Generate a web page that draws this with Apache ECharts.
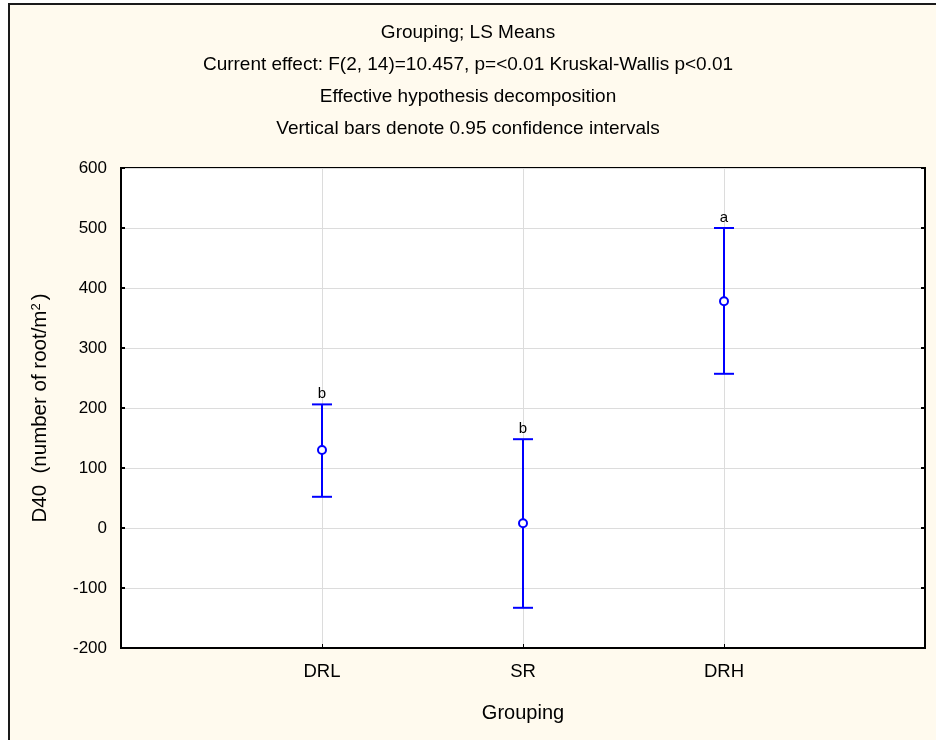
<!DOCTYPE html>
<html>
<head>
<meta charset="utf-8">
<script src="https://cdn.jsdelivr.net/npm/echarts@6/dist/echarts.min.js"></script>
<style>
html,body{margin:0;padding:0;background:#ffffff;}
#chart{width:936px;height:740px;}
</style>
</head>
<body>
<div id="chart"></div>
<script>
// ---- data ----
const categories = ['DRL', 'SR', 'DRH'];
const means = [130, 8, 378];
const lowerCI = [52, -133, 257];
const upperCI = [206, 148, 500];
const groupLetters = ['b', 'b', 'a'];
const titleLines = [
  'Grouping; LS Means',
  'Current effect: F(2, 14)=10.457, p=<0.01 Kruskal-Wallis p<0.01',
  'Effective hypothesis decomposition',
  'Vertical bars denote 0.95 confidence intervals'
];
const yTicks = [-200, -100, 0, 100, 200, 300, 400, 500, 600];

// padded category axis so that groups sit at 1/4, 2/4, 3/4 of the width
const axisCats = [''].concat(categories).concat(['']);
const FONT = 'Liberation Sans';
const BLUE = '#0000ff';

const errData = categories.map((c, i) => [c, lowerCI[i], upperCI[i], means[i], groupLetters[i]]);

const titleGraphics = titleLines.map((t, i) => ({
  type: 'text', silent: true, z: 5,
  x: 468, y: 33 + i * 32,
  style: {text: t, fill: '#000', font: '19px "Liberation Sans"', align: 'center', verticalAlign: 'middle'}
}));

const chart = echarts.init(document.getElementById('chart'), null, {renderer: 'canvas'});
chart.setOption({
  backgroundColor: '#ffffff',
  animation: false,
  graphic: [{
    type: 'rect', z: -10, silent: true,
    shape: {x: 9, y: 4, width: 940, height: 750},
    style: {fill: '#fffaee', stroke: '#1a1a1a', lineWidth: 2}
  }].concat(titleGraphics),
  grid: {
    left: 121, right: 11, top: 168, bottom: 92,
    show: true, backgroundColor: '#ffffff', borderColor: '#000', borderWidth: 2,
    containLabel: false
  },
  xAxis: {
    type: 'category',
    data: axisCats,
    boundaryGap: false,
    name: 'Grouping',
    nameLocation: 'middle',
    nameGap: 55,
    nameTextStyle: {fontFamily: FONT, fontSize: 20, color: '#000'},
    axisLine: {show: true, onZero: false, lineStyle: {color: '#000', width: 2}},
    axisTick: {show: true, inside: true, length: 4, lineStyle: {color: '#000', width: 1}},
    axisLabel: {fontFamily: FONT, fontSize: 18.5, color: '#000', margin: 14, interval: 0},
    splitLine: {show: true, lineStyle: {color: '#dcdcdc', width: 1}}
  },
  yAxis: [{
    type: 'value',
    min: yTicks[0], max: yTicks[yTicks.length - 1], interval: 100,
    name: 'D40  (number of root/m{sup|2})',
    nameLocation: 'middle',
    nameGap: 70,
    nameRotate: 90,
    nameTextStyle: {fontFamily: FONT, fontSize: 20.5, color: '#000',
      rich: {sup: {fontFamily: FONT, fontSize: 13, color: '#000', verticalAlign: 'top', padding: [0, 3, 8, 0]}}},
    axisLine: {show: true, onZero: false, lineStyle: {color: '#000', width: 2}},
    axisTick: {show: true, inside: true, length: 4, lineStyle: {color: '#000', width: 2}},
    axisLabel: {fontFamily: FONT, fontSize: 17, color: '#000', margin: 14},
    splitLine: {show: true, lineStyle: {color: '#dcdcdc', width: 1}}
  }, {
    type: 'value', position: 'right',
    min: yTicks[0], max: yTicks[yTicks.length - 1], interval: 100,
    axisLine: {show: true, onZero: false, lineStyle: {color: '#000', width: 2}},
    axisTick: {show: true, inside: true, length: 4, lineStyle: {color: '#000', width: 2}},
    axisLabel: {show: false},
    splitLine: {show: false}
  }],
  series: [{
    type: 'custom',
    data: errData,
    encode: {x: 0, y: [1, 2, 3]},
    renderItem: function (params, api) {
      const x = api.value(0);
      const lo = api.coord([x, api.value(1)]);
      const hi = api.coord([x, api.value(2)]);
      const m = api.coord([x, api.value(3)]);
      const hw = 10;
      const ls = {stroke: BLUE, lineWidth: 2};
      return {
        type: 'group',
        children: [
          {type: 'line', shape: {x1: hi[0], y1: hi[1], x2: m[0], y2: m[1] - 4}, style: ls},
          {type: 'line', shape: {x1: m[0], y1: m[1] + 4, x2: lo[0], y2: lo[1]}, style: ls},
          {type: 'line', shape: {x1: hi[0] - hw, y1: hi[1], x2: hi[0] + hw, y2: hi[1]}, style: ls},
          {type: 'line', shape: {x1: lo[0] - hw, y1: lo[1], x2: lo[0] + hw, y2: lo[1]}, style: ls},
          {type: 'circle', shape: {cx: m[0], cy: m[1], r: 4}, style: {fill: '#fff', stroke: BLUE, lineWidth: 2}},
          {type: 'text', x: hi[0], y: hi[1] - 3,
            style: {text: api.value(4), fill: '#000', font: '15px "Liberation Sans"', align: 'center', verticalAlign: 'bottom'}}
        ]
      };
    }
  }]
});
</script>
</body>
</html>
